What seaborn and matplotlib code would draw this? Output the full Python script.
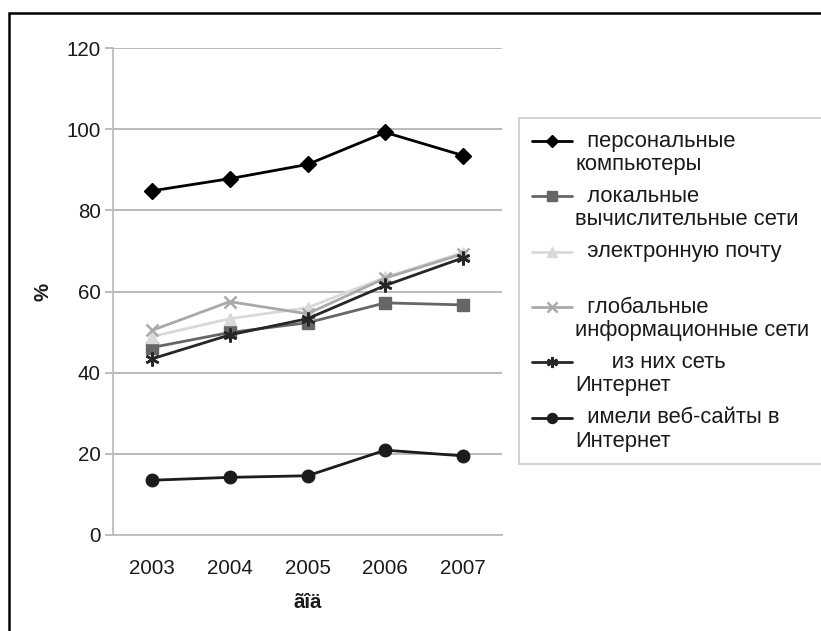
import matplotlib
matplotlib.use("Agg")
import matplotlib.pyplot as plt
import seaborn as sns
import pandas as pd
from matplotlib.patches import Rectangle

years = [2003, 2004, 2005, 2006, 2007]
series_names = [
    "персональные компьютеры",
    "локальные вычислительные сети",
    "электронную почту",
    "глобальные информационные сети",
    "из них сеть Интернет",
    "имели веб-сайты в Интернет",
]
legend_labels = [
    "  персональные\nкомпьютеры",
    "  локальные\nвычислительные сети",
    "  электронную почту\n ",
    "  глобальные\nинформационные сети",
    "      из них сеть\nИнтернет",
    "  имели веб-сайты в\nИнтернет",
]
pc = [84.8, 87.8, 91.3, 99.2, 93.5]
lan = [46.2, 49.9, 52.3, 57.2, 56.7]
email = [48.9, 53.3, 56.0, 63.5, 69.6]
glob = [50.4, 57.5, 54.5, 63.3, 69.3]
inet = [43.4, 49.3, 53.3, 61.5, 68.3]
web = [13.5, 14.2, 14.6, 20.9, 19.5]
values = [pc, lan, email, glob, inet, web]

yticks = [0, 20, 40, 60, 80, 100, 120]
xlabel = "ãîä"
ylabel = "%"

colors = ["#000000", "#666666", "#d9d9d9", "#a9a9a9", "#262626", "#1c1c1c"]
markers = ["D", "s", "^", "x", (6, 2, 0), "o"]
msizes = [8, 9, 9, 9, 10, 9]

rows = []
for name, vals in zip(series_names, values):
    for y, v in zip(years, vals):
        rows.append({"year": y, "value": v, "series": name})
df = pd.DataFrame(rows)

sns.set_theme(style="white")
plt.rcParams["font.family"] = ["Liberation Sans", "DejaVu Sans"]

fig = plt.figure(figsize=(8.21, 6.31), dpi=100)
ax = fig.add_axes([113 / 821, 96 / 631, (502 - 113) / 821, (535 - 48) / 631])

for name, col, mk, ms in zip(series_names, colors, markers, msizes):
    sub = df[df["series"] == name]
    sns.lineplot(data=sub, x="year", y="value", ax=ax, color=col, marker=mk,
                 markersize=ms, linewidth=2.0, markeredgecolor=col,
                 markeredgewidth=1.8 if mk in ("x", (6, 2, 0)) else 1.0,
                 label=name, legend=False, sort=False, errorbar=None)

ax.set_xlim(2002.5, 2007.5)
ax.set_ylim(0, 120)
ax.set_yticks(yticks)
ax.set_xticks(years)
ax.set_xticks([2002.5 + i for i in range(6)], minor=True)
ax.tick_params(axis="x", which="major", length=0, pad=17, labelsize=14.8, colors="#1a1a1a")
ax.tick_params(axis="x", which="minor", length=6, width=1.2, color="#b0b0b0", direction="out")
ax.tick_params(axis="y", length=6, width=1.2, color="#b0b0b0", direction="out", pad=3,
               labelsize=14.8, labelcolor="#1a1a1a", left=True)
ax.grid(axis="y", color="#b4b4b4", linewidth=1.3)
ax.grid(axis="x", visible=False)
for s in ["top", "right"]:
    ax.spines[s].set_visible(False)
for s in ["left", "bottom"]:
    ax.spines[s].set_color("#bcbcbc")
    ax.spines[s].set_linewidth(1.3)
ax.set_xlabel(xlabel, fontsize=14.8, fontweight="bold", labelpad=11, color="#1a1a1a")
ax.set_ylabel(ylabel, fontsize=14.8, fontweight="bold", labelpad=10, color="#1a1a1a")

handles = ax.get_lines()[: len(series_names)]
leg = fig.legend(handles, legend_labels, loc="upper left",
                 bbox_to_anchor=(519 / 821, (631 - 118) / 631),
                 bbox_transform=fig.transFigure, borderaxespad=0,
                 fontsize=15.8, frameon=True, fancybox=False, handlelength=1.85,
                 handletextpad=0.15, labelspacing=0.5, borderpad=0.57,
                 markerscale=0.8)
leg.get_frame().set_edgecolor("#bdbdbd")
leg.get_frame().set_linewidth(1.2)
for t in leg.get_texts():
    t.set_color("#1a1a1a")
    t.set_linespacing(1.15)
for h in leg.legend_handles:
    h.set_ydata([v + 8.7 for v in h.get_ydata()])

fig.patches.append(Rectangle((9 / 821, -0.1), 1.2, (631 - 13) / 631 + 0.1,
                             transform=fig.transFigure, fill=False,
                             edgecolor="black", linewidth=1.8))

fig.savefig("out.png", dpi=100)
